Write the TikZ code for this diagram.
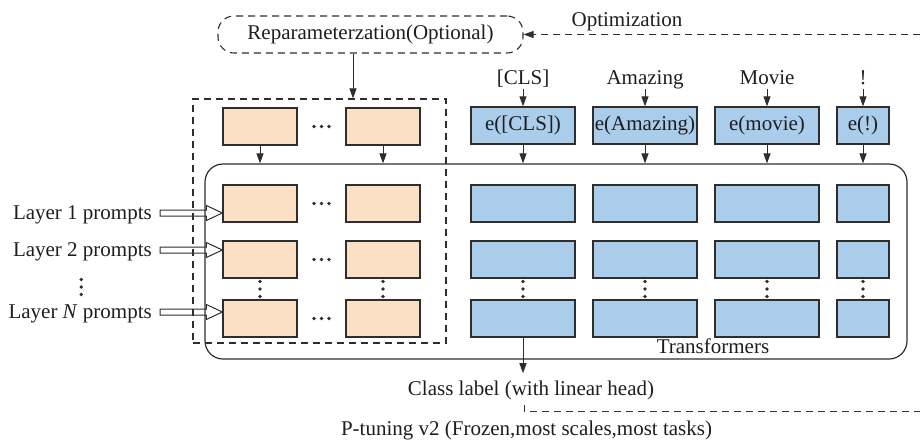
\documentclass[tikz,border=0pt]{standalone}
\usepackage{fontspec}
\setmainfont{Liberation Serif}
\usetikzlibrary{arrows.meta,calc}
\definecolor{peach}{HTML}{FCE0C5}
\definecolor{sky}{HTML}{AACDEB}
\definecolor{ink}{HTML}{2E2E2E}
\definecolor{txt}{HTML}{1E1E1E}

% three small dots in a row / in a column around a point
\newcommand\dotsrow[1]{\foreach \d in {-7.5,0,7.5}{\fill[ink] ($(#1)+(\d,0)$) circle (1.9pt);}}
\newcommand\dotscol[1]{\foreach \d in {-7.5,0,7.5}{\fill[ink] ($(#1)+(0,\d)$) circle (1.9pt);}}
% hollow (outlined) arrow from a label to a prompt box
\newcommand\hollowarrow[2]{%
  \coordinate (ha) at ($(#1.base east)+(8,-6)$);
  \coordinate (hb) at (#2.west |- ha);
  \draw[ink, line width=1pt, line join=miter]
    ($(ha)+(0,-3)$) -- ($(hb)+(-16,-3)$) -- ($(hb)+(-16,-7.5)$) -- (hb)
    -- ($(hb)+(-16,7.5)$) -- ($(hb)+(-16,3)$) -- ($(ha)+(0,3)$) -- cycle;}

\begin{document}
\begin{tikzpicture}[x=1pt,y=-1pt,
  font=\fontsize{21}{25}\selectfont,
  every node/.style={inner sep=0pt, text=txt},
  box/.style={draw=ink, line width=1.3pt, minimum height=37pt},
  pbox/.style={box, fill=peach, minimum width=74pt},
  ebox/.style={box, fill=sky, minimum width=104pt},
  nbox/.style={box, fill=sky, minimum width=52pt},
  arr/.style={draw=ink, line width=1pt, -{Triangle[length=10pt,width=7pt]}},
  dash7/.style={dash pattern=on 7pt off 5pt},
  token/.style={anchor=base, text height=14pt, text depth=5pt},
]
\useasboundingbox (0,0) rectangle (920,440);

% containers
\node[draw=ink, line width=1.2pt, rounded corners=18pt,
      minimum width=702pt, minimum height=195pt] (tf) at (556,261.5) {};
\node[draw=ink, line width=1.1pt, dash7,
      minimum width=253pt, minimum height=244pt] (pg) at (319.5,221) {};
\node[draw=ink, line width=1.1pt, dash7, rounded corners=16pt,
      minimum width=305pt, minimum height=37pt] (rep) at (370.5,34.5)
      {Reparameterzation(Optional)};

% prompt encoder outputs
\node[pbox] (t1) at (260,126.5) {};
\node[pbox] (t2) at (383,126.5) {};

% per-layer prompts
\node[pbox] (o11) at (260,203.5) {};
\node[pbox] (o12) at (383,203.5) {};
\node[pbox] (o21) at (260,259.5) {};
\node[pbox] (o22) at (383,259.5) {};
\node[pbox] (o31) at (260,318.5) {};
\node[pbox] (o32) at (383,318.5) {};

% input tokens and embeddings
\node[token] (w1) at (523,84) {[CLS]};
\node[token] (w2) at (645,84) {Amazing};
\node[token] (w3) at (767,84) {Movie};
\node[token] (w4) at (863,84) {!};
\node[ebox] (e1) at (523,125.5) {e([CLS])};
\node[ebox] (e2) at (645,125.5) {e(Amazing)};
\node[ebox] (e3) at (767,125.5) {e(movie)};
\node[nbox] (e4) at (863,125.5) {e(!)};

% transformer layers
\foreach \r/\y in {1/203.5,2/259.5,3/318.5}{
  \node[ebox] (b\r1) at (523,\y) {};
  \node[ebox] (b\r2) at (645,\y) {};
  \node[ebox] (b\r3) at (767,\y) {};
  \node[nbox] (b\r4) at (863,\y) {};
}

% texts
\node[anchor=base] (opt) at (627,26) {Optimization};
\node[anchor=base] (trf) at (713,353) {Transformers};
\node[anchor=base] (cl) at (531,395) {Class label (with linear head)};
\node[anchor=base] (cap) at (526.5,435) {P-tuning v2 (Frozen,most scales,most tasks)};
\node[anchor=base east] (l1) at (152,219) {Layer 1 prompts};
\node[anchor=base east] (l2) at (152,256) {Layer 2 prompts};
\node[anchor=base east] (lN) at (152,318) {Layer \textit{N} prompts};

% arrows
\coordinate (optR) at (920,34.5);
\draw[arr, dash7] (optR) -- (rep.east);
\coordinate (rd) at ($(rep.south)+(-17.5,0)$);
\draw[arr] (rd) -- (rd |- pg.north);
\foreach \n in {t1,t2,e1,e2,e3,e4}{\draw[arr] (\n.south) -- (\n.south |- tf.north);}
\foreach \i in {1,2,3,4}{\draw[arr] (w\i.south) -- (e\i.north);}
\draw[arr] (b31.south) -- ($(b31.south |- cl.north)+(0,-7)$);

% feedback line towards the optimizer
\coordinate (fbS) at (524,405);
\coordinate (fbE) at (920,411);
\draw[ink, line width=1pt, dash7] (fbS) -- (fbS |- fbE) -- (fbE);

% hollow arrows feeding prompts
\hollowarrow{l1}{o11}
\hollowarrow{l2}{o21}
\hollowarrow{lN}{o31}

% ellipses
\dotsrow{$(t1.east)!0.5!(t2.west)$}
\dotsrow{$(o11.east)!0.5!(o12.west)$}
\dotsrow{$(o21.east)!0.5!(o22.west)$}
\dotsrow{$(o31.east)!0.5!(o32.west)$}
\foreach \c in {1,2}{\dotscol{$(o2\c.south)!0.5!(o3\c.north)$}}
\foreach \c in {1,2,3,4}{\dotscol{$(b2\c.south)!0.5!(b3\c.north)$}}
\dotscol{$(l2.base)!0.5!(lN.base)$}
\end{tikzpicture}
\end{document}
